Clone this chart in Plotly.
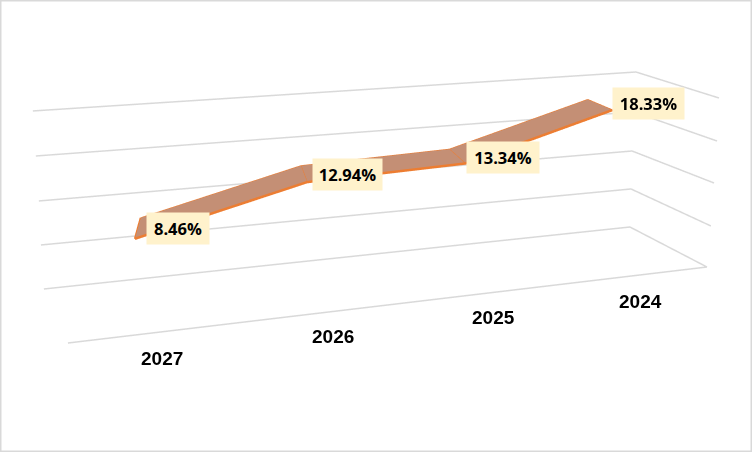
import plotly.graph_objects as go

categories = ["2027", "2026", "2025", "2024"]
values = [8.46, 12.94, 13.34, 18.33]
labels = ["8.46%", "12.94%", "13.34%", "18.33%"]
z_ticks = [0, 5, 10, 15, 20]

# scene geometry
GX = [[-0.675, 3.5, 3.624], [-0.643, 3.524, 3.638], [-0.6, 3.54, 3.656], [-0.558, 3.569, 3.64], [-0.502, 3.609, 3.599]]
GY = [[0.886, 0.628, -0.227], [0.995, 0.774, -0.121], [1.074, 0.906, 0.001], [1.136, 1.047, 0.078], [1.13, 1.207, 0.132]]
FRONT_X = [-0.402, 3.624]
FRONT_Y = [0.063, -0.227]
Y_FRONT, Y_BACK = 0.41, 0.778
LABEL_SHIFT = [[11, 10], [5, 8], [1, 6], [-1, 6]]
CATEGORY_SHIFT = [[12, -53], [20, -54], [36, -55], [55, -57]]
LABEL_WIDTH = [60, 67, 70, 69]

GRID = "#D9D9D9"
ORANGE = "#ED7D31"
RIBBON = "#C48F75"
pos = list(range(len(categories)))

fig = go.Figure()
for k, t in enumerate(z_ticks):
    fig.add_trace(go.Scatter3d(x=GX[k], y=GY[k], z=[t] * 3, mode="lines",
                               line=dict(color=GRID, width=3), hoverinfo="skip"))
fig.add_trace(go.Scatter3d(x=FRONT_X, y=FRONT_Y, z=[z_ticks[0]] * 2, mode="lines",
                           line=dict(color=GRID, width=3), hoverinfo="skip"))
fig.add_trace(go.Mesh3d(x=pos + pos, y=[Y_FRONT] * 4 + [Y_BACK] * 4, z=values + values,
                        i=[0, 5, 1, 6, 2, 7], j=[1, 4, 2, 5, 3, 6], k=[4, 1, 5, 2, 6, 3],
                        color=RIBBON, flatshading=True,
                        lighting=dict(ambient=1, diffuse=0, specular=0, fresnel=0), hoverinfo="skip"))
fig.add_trace(go.Scatter3d(x=pos, y=[Y_FRONT] * 4, z=values, mode="lines",
                           line=dict(color=ORANGE, width=5), hoverinfo="skip"))
fig.add_trace(go.Scatter3d(x=pos, y=[Y_BACK] * 4, z=values, mode="lines",
                           line=dict(color=ORANGE, width=2), hoverinfo="skip"))
for i in pos:
    fig.add_trace(go.Scatter3d(x=[i, i], y=[Y_FRONT, Y_BACK], z=[values[i]] * 2, mode="lines",
                               line=dict(color=ORANGE, width=4 if i == 0 else 2), hoverinfo="skip"))

anns = [dict(x=i, y=Y_FRONT, z=values[i], text="<b>%s</b>" % labels[i], showarrow=False,
             xanchor="left", yanchor="middle", xshift=LABEL_SHIFT[i][0], yshift=LABEL_SHIFT[i][1],
             bgcolor="#FFF2CC", width=LABEL_WIDTH[i], height=29,
             font=dict(family="Open Sans", size=16.5, color="#000")) for i in pos]
anns += [dict(x=i, y=Y_FRONT, z=0, text="<b>%s</b>" % categories[i], showarrow=False,
              xshift=CATEGORY_SHIFT[i][0], yshift=CATEGORY_SHIFT[i][1],
              font=dict(family="Liberation Sans", size=19, color="#000")) for i in pos]

hidden = dict(showgrid=False, showticklabels=False, title="", showbackground=False,
              zeroline=False, showspikes=False, ticks="", showline=False)
fig.update_layout(
    width=752, height=452, margin=dict(l=0, r=0, t=0, b=0), showlegend=False,
    paper_bgcolor="#FFFFFF",
    shapes=[dict(type="rect", xref="paper", yref="paper", x0=0, x1=1, y0=0, y1=1,
                 line=dict(color=GRID, width=3))],
    scene=dict(
        domain=dict(x=[0, 1], y=[0, 1]), annotations=anns,
        xaxis=dict(hidden, range=[-0.715, 3.696]),
        yaxis=dict(hidden, range=[-0.237, 1.217]),
        zaxis=dict(hidden, range=[0, 20]),
        aspectmode="manual", aspectratio=dict(x=0.26703, y=0.06605, z=0.06607),
        camera=dict(eye=dict(x=-0.05096, y=-0.18433, z=0.0854),
                    center=dict(x=0.77419, y=3.01085, z=-1.62328),
                    up=dict(x=0, y=0, z=1))))
fig.write_html("out.html", config={"displayModeBar": False},
               post_script="document.body.style.margin='0';document.documentElement.style.overflow='hidden';")
